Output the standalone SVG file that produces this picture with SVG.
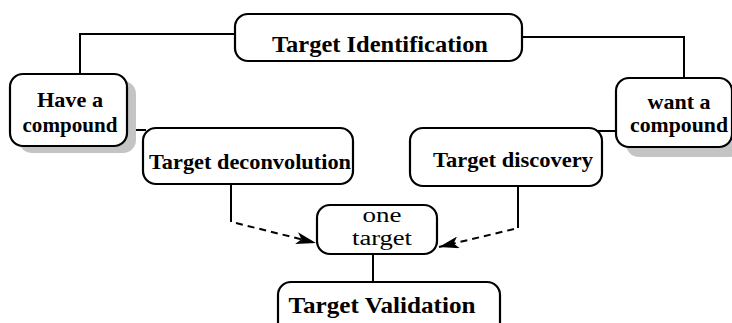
<svg xmlns="http://www.w3.org/2000/svg" width="732" height="323" viewBox="0 0 732 323">
<style>
.box{fill:#fff;stroke:#000;stroke-width:2.2}
.shadow{fill:#c4c4c4;stroke:none}
text{font-family:'Liberation Serif', serif;fill:#000;text-anchor:middle}
.t{font-weight:bold}
.n{font-weight:normal}
.line{fill:none;stroke:#000;stroke-width:2}
.dash{fill:none;stroke:#000;stroke-width:2;stroke-dasharray:7,5}
</style>
<defs>
<marker id="arr" viewBox="0 0 20 12" refX="20" refY="6" markerWidth="20" markerHeight="12" markerUnits="userSpaceOnUse" orient="auto">
<path d="M0,0 L20,6 L0,12 L5,6 Z" fill="#000"/>
</marker>
</defs>
<g id="connectors">
<polyline class="line" points="235,34 80,34 80,74"/>
<polyline class="line" points="522,37 684,37 684,78"/>
<line class="line" x1="127" y1="130" x2="146" y2="130"/>
<line class="line" x1="580" y1="131" x2="616" y2="131"/>
<line class="line" x1="231" y1="184" x2="231" y2="222"/>
<line class="dash" x1="236" y1="223" x2="316" y2="243" marker-end="url(#arr)"/>
<line class="line" x1="518" y1="186" x2="518" y2="228"/>
<line class="dash" x1="514" y1="229" x2="439" y2="247" marker-end="url(#arr)"/>
<line class="line" x1="373" y1="254" x2="373" y2="282"/>
</g>
<g id="target-identification">
<rect class="box" x="235" y="14" width="287" height="47" rx="13"/>
<text class="t" x="380" y="52" font-size="24" textLength="216" lengthAdjust="spacingAndGlyphs">Target Identification</text>
</g>
<g id="have-a-compound">
<rect class="shadow" x="19" y="81" width="117" height="72" rx="13"/>
<rect class="box" x="10" y="74" width="117" height="72" rx="13"/>
<text class="t" x="70" y="107" font-size="22" textLength="66" lengthAdjust="spacingAndGlyphs">Have a</text>
<text class="t" x="70" y="132" font-size="22" textLength="95" lengthAdjust="spacingAndGlyphs">compound</text>
</g>
<g id="want-a-compound">
<rect class="shadow" x="626" y="86" width="116" height="71" rx="13"/>
<rect class="box" x="616" y="78" width="116" height="69" rx="13"/>
<text class="t" x="679" y="109" font-size="22">want a</text>
<text class="t" x="679" y="132" font-size="22" textLength="98" lengthAdjust="spacingAndGlyphs">compound</text>
</g>
<g id="target-deconvolution">
<rect class="box" x="143" y="128" width="210" height="56" rx="13"/>
<text class="t" x="250" y="169" font-size="22" textLength="202" lengthAdjust="spacingAndGlyphs">Target deconvolution</text>
</g>
<g id="target-discovery">
<rect class="box" x="410" y="128" width="192" height="58" rx="13"/>
<text class="t" x="513" y="167" font-size="22" textLength="160" lengthAdjust="spacingAndGlyphs">Target discovery</text>
</g>
<g id="one-target">
<rect class="box" x="317" y="205" width="120" height="49" rx="13"/>
<text class="n" x="382" y="222" font-size="20" textLength="39" lengthAdjust="spacingAndGlyphs">one</text>
<text class="n" x="382" y="245" font-size="20" textLength="60" lengthAdjust="spacingAndGlyphs">target</text>
</g>
<g id="target-validation">
<rect class="box" x="278" y="282" width="222" height="55" rx="13"/>
<text class="t" x="382" y="313" font-size="24" textLength="187" lengthAdjust="spacingAndGlyphs">Target Validation</text>
</g>
</svg>
